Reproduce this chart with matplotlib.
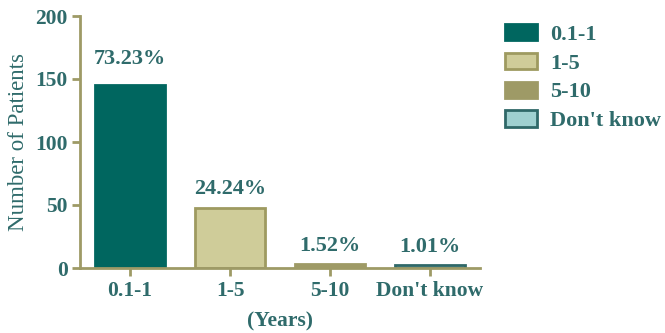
import matplotlib
matplotlib.use("Agg")
import matplotlib.pyplot as plt
from matplotlib.patches import Patch

categories = ["0.1-1", "1-5", "5-10", "Don't know"]
patients = [145, 48, 3, 2]
percent_labels = ["73.23%", "24.24%", "1.52%", "1.01%"]

fill_colors = ["#00665f", "#cfcc99", "#9e9a66", "#9fd0d0"]
edge_colors = ["#00665f", "#9e9a60", "#9e9a66", "#2f6868"]
text_color = "#2f6b6b"
spine_color = "#9e9a66"

plt.rcParams["font.family"] = ["Liberation Serif", "DejaVu Serif"]
plt.rcParams["font.weight"] = "bold"

fig = plt.figure(figsize=(6.65, 3.33), dpi=100)
ax = fig.add_axes([80 / 665, (333 - 268) / 333, 400 / 665, 252 / 333])

x = range(len(categories))
bars = ax.bar(x, patients, width=0.7, color=fill_colors, edgecolor=edge_colors,
              linewidth=2)

offsets = [12, 6, 6, 6]
for b, lab, off in zip(bars, percent_labels, offsets):
    ax.annotate(lab, (b.get_x() + b.get_width() / 2, b.get_height()),
                xytext=(0, off), textcoords="offset points", ha="center",
                va="bottom", fontsize=16, fontweight="bold", color=text_color)

ax.set_xlim(-0.5, 3.5)
ax.set_ylim(0, 200)
ax.set_yticks([0, 50, 100, 150, 200])
ax.set_xticks(list(x))
ax.set_xticklabels(categories)

for side in ["top", "right"]:
    ax.spines[side].set_visible(False)
for side in ["left", "bottom"]:
    ax.spines[side].set_color(spine_color)
    ax.spines[side].set_linewidth(2)

ax.tick_params(axis="both", colors=spine_color, width=2, length=6,
               labelcolor=text_color, labelsize=15.5, pad=3)
for t in ax.get_xticklabels() + ax.get_yticklabels():
    t.set_fontweight("bold")

ax.set_ylabel("Number of Patients", fontsize=16.5, fontweight="normal",
              color=text_color, labelpad=4)
ax.set_xlabel("(Years)", fontsize=15.5, fontweight="bold", color=text_color,
              labelpad=8)

handles = [Patch(facecolor=f, edgecolor=e, linewidth=2)
           for f, e in zip(fill_colors, edge_colors)]
leg = fig.legend(handles, categories, loc="upper left",
                 bbox_to_anchor=(487 / 665, 1 - 6 / 333), frameon=False,
                 prop={"size": 16, "weight": "bold"}, handlelength=1.45,
                 handleheight=0.75, labelspacing=0.36, handletextpad=0.6,
                 borderpad=0.3)
for t in leg.get_texts():
    t.set_color(text_color)

fig.savefig("out.png", dpi=100)
